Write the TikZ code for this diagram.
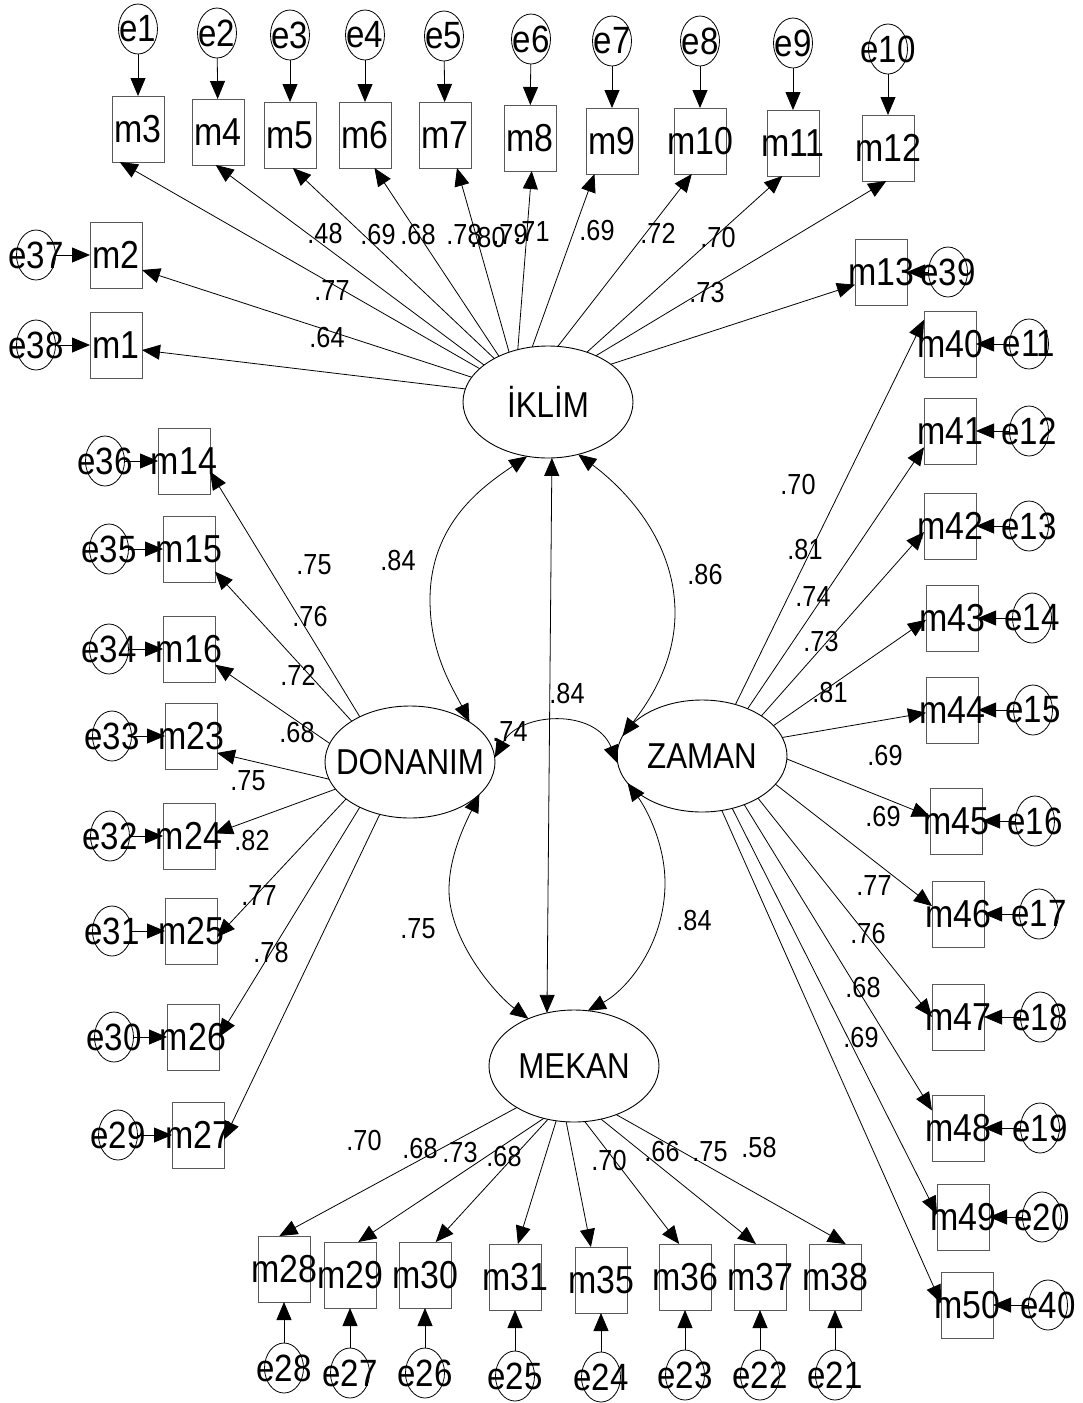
\documentclass[tikz,border=0pt]{standalone}
\usepackage{fontspec}
\setmainfont{Liberation Sans}[FakeStretch=0.87]
\usetikzlibrary{shapes.geometric,arrows.meta}
\newcommand{\zw}[1]{\makebox[0pt]{#1}}
\newcommand{\fntM}{\fontsize{39}{41}\selectfont}
\newcommand{\fntE}{\fontsize{38}{40}\selectfont}
\newcommand{\fntL}{\fontsize{36}{38}\selectfont}
\newcommand{\fntN}{\fontsize{29}{31}\selectfont}
\begin{document}
\begin{tikzpicture}[x=1pt,y=-1pt,
  >={Triangle[length=18pt,width=15pt]},
  lat/.style={ellipse,draw,line width=0.9pt,minimum width=170pt,minimum height=112pt,inner sep=0pt,outer sep=0pt,font=\fntL},
  obs/.style={rectangle,draw=black!65,line width=0.9pt,minimum width=52pt,minimum height=66pt,inner sep=0pt,outer sep=0pt,font=\fntM},
  err/.style={ellipse,draw,line width=0.8pt,minimum width=39pt,minimum height=50pt,inner sep=0pt,outer sep=0pt,font=\fntE},
  num/.style={inner sep=0pt,font=\fntN},
  ld/.style={->,line width=0.8pt},
  cv/.style={<->,line width=0.8pt}]
\useasboundingbox (0,0) rectangle (1083,1403);

% latent variables
\node[lat] (ik) at (548,402) {\zw{İKLİM}};
\node[lat] (don) at (410,762) {\zw{DONANIM}};
\node[lat] (zam) at (702,756) {\zw{ZAMAN}};
\node[lat] (mek) at (574,1066) {\zw{MEKAN}};

% top row
\node[obs] (m3) at (138,129) {\zw{m3}};
\node[obs] (m4) at (218,132) {\zw{m4}};
\node[obs] (m5) at (290,135) {\zw{m5}};
\node[obs] (m6) at (365,135) {\zw{m6}};
\node[obs] (m7) at (445,135) {\zw{m7}};
\node[obs] (m8) at (530,138) {\zw{m8}};
\node[obs] (m9) at (612,141) {\zw{m9}};
\node[obs] (m10) at (700,141) {\zw{m10}};
\node[obs] (m11) at (793,143) {\zw{m11}};
\node[obs] (m12) at (888,148) {\zw{m12}};
\node[err] (e1) at (138,29) {\zw{e1}};
\node[err] (e2) at (217,33) {\zw{e2}};
\node[err] (e3) at (290,35) {\zw{e3}};
\node[err] (e4) at (365,35) {\zw{e4}};
\node[err] (e5) at (444,36) {\zw{e5}};
\node[err] (e6) at (531,39) {\zw{e6}};
\node[err] (e7) at (612,41) {\zw{e7}};
\node[err] (e8) at (700,41) {\zw{e8}};
\node[err] (e9) at (793,43) {\zw{e9}};
\node[err] (e10) at (888,49) {\zw{e10}};
% m2, m1, m13
\node[obs] (m2) at (116,255) {\zw{m2}};
\node[obs] (m1) at (116,345) {\zw{m1}};
\node[err] (e37) at (36,255) {\zw{e37}};
\node[err] (e38) at (36,345) {\zw{e38}};
\node[obs] (m13) at (881,272) {\zw{m13}};
\node[err] (e39) at (948,272) {\zw{e39}};

% left column
\node[obs] (m14) at (184,461) {\zw{m14}};
\node[obs] (m15) at (189,549) {\zw{m15}};
\node[obs] (m16) at (189,649) {\zw{m16}};
\node[obs] (m23) at (191,736) {\zw{m23}};
\node[obs] (m24) at (189,836) {\zw{m24}};
\node[obs] (m25) at (191,931) {\zw{m25}};
\node[obs] (m26) at (193,1037) {\zw{m26}};
\node[obs] (m27) at (198,1135) {\zw{m27}};
\node[err] (e36) at (105,461) {\zw{e36}};
\node[err] (e35) at (109,549) {\zw{e35}};
\node[err] (e34) at (109,649) {\zw{e34}};
\node[err] (e33) at (112,736) {\zw{e33}};
\node[err] (e32) at (110,836) {\zw{e32}};
\node[err] (e31) at (112,931) {\zw{e31}};
\node[err] (e30) at (114,1037) {\zw{e30}};
\node[err] (e29) at (118,1135) {\zw{e29}};

% right column
\node[obs] (m40) at (950,344) {\zw{m40}};
\node[obs] (m41) at (950,431) {\zw{m41}};
\node[obs] (m42) at (950,526) {\zw{m42}};
\node[obs] (m43) at (952,618) {\zw{m43}};
\node[obs] (m44) at (952,710) {\zw{m44}};
\node[obs] (m45) at (956,821) {\zw{m45}};
\node[obs] (m46) at (958,914) {\zw{m46}};
\node[obs] (m47) at (958,1017) {\zw{m47}};
\node[obs] (m48) at (958,1128) {\zw{m48}};
\node[obs] (m49) at (963,1217) {\zw{m49}};
\node[obs] (m50) at (967,1305) {\zw{m50}};
\node[err] (e11) at (1029,344) {\zw{e11}};
\node[err] (e12) at (1029,431) {\zw{e12}};
\node[err] (e13) at (1029,526) {\zw{e13}};
\node[err] (e14) at (1032,618) {\zw{e14}};
\node[err] (e15) at (1033,710) {\zw{e15}};
\node[err] (e16) at (1035,821) {\zw{e16}};
\node[err] (e17) at (1039,914) {\zw{e17}};
\node[err] (e18) at (1040,1017) {\zw{e18}};
\node[err] (e19) at (1040,1128) {\zw{e19}};
\node[err] (e20) at (1042,1217) {\zw{e20}};
\node[err] (e40) at (1048,1305) {\zw{e40}};

% bottom row
\node[obs] (m28) at (284,1269) {\zw{m28}};
\node[obs] (m29) at (350,1275) {\zw{m29}};
\node[obs] (m30) at (425,1275) {\zw{m30}};
\node[obs] (m31) at (515,1277) {\zw{m31}};
\node[obs] (m35) at (601,1280) {\zw{m35}};
\node[obs] (m36) at (685,1277) {\zw{m36}};
\node[obs] (m37) at (760,1277) {\zw{m37}};
\node[obs] (m38) at (835,1277) {\zw{m38}};
\node[err] (e28) at (284,1368) {\zw{e28}};
\node[err] (e27) at (350,1373) {\zw{e27}};
\node[err] (e26) at (425,1373) {\zw{e26}};
\node[err] (e25) at (515,1376) {\zw{e25}};
\node[err] (e24) at (601,1377) {\zw{e24}};
\node[err] (e23) at (685,1375) {\zw{e23}};
\node[err] (e22) at (760,1375) {\zw{e22}};
\node[err] (e21) at (835,1375) {\zw{e21}};

% error arrows
\foreach \e/\m in {e1/m3,e2/m4,e3/m5,e4/m6,e5/m7,e6/m8,e7/m9,e8/m10,e9/m11,e10/m12,
  e37/m2,e38/m1,e39/m13,
  e36/m14,e35/m15,e34/m16,e33/m23,e32/m24,e31/m25,e30/m26,e29/m27,
  e11/m40,e12/m41,e13/m42,e14/m43,e15/m44,e16/m45,e17/m46,e18/m47,e19/m48,e20/m49,e40/m50,
  e28/m28,e27/m29,e26/m30,e25/m31,e24/m35,e23/m36,e22/m37,e21/m38}
  \draw[ld] (\e) -- (\m);

% loadings IKLIM
\foreach \a/\m/\b in {171/m1/-11,162/m2/-30,154/m3/241,150/m4/266,141/m5/275,137/m6/286,
  128/m7/290,120/m8/273,106/m9/242,80/m10/256,52/m11/252,44/m12/267,31/m13/206}
  \draw[ld] (ik.\a) -- (\m.\b);
% loadings DONANIM
\foreach \a/\m/\b in {138/m14/-22,145/m15/-41,167/m16/-31,192/m23/-33,200/m24/6,
  210/m25/-13,222/m26/0,240/m27/-10}
  \draw[ld] (don.\a) -- (\m.\b);
% loadings ZAMAN
\foreach \a/\m/\b in {57/m40/137,46/m41/212,34/m42/193,23/m43/184,13/m44/186,-2/m45/170,
  -21/m46/163,-37/m47/180,-49/m48/146,-60/m49/174,-70/m50/176}
  \draw[ld] (zam.\a) -- (\m.\b);
% loadings MEKAN
\foreach \a/\m/\b in {216/m28/98,240/m29/76,244/m30/72,252/m31/85,262/m35/107,
  281/m36/100,297/m37/97,311/m38/72}
  \draw[ld] (mek.\a) -- (\m.\b);

% covariances
\draw[cv] (ik.249) .. controls (485,485) and (430,522) .. (430,600)
  .. controls (430,655) and (454,690) .. (don.34);
\draw[cv] (ik.300) .. controls (621,486) and (675,538) .. (675,613)
  .. controls (675,668) and (643,709) .. (zam.166);
\draw[cv] (ik.274) -- (mek.117);
\draw[cv] (don.3) .. controls (520,712) and (595,708) .. (zam.185);
\draw[cv] (don.335) .. controls (466,822) and (449,855) .. (449,890)
  .. controls (449,940) and (495,994) .. (mek.134);
\draw[cv] (zam.200) .. controls (646,808) and (665,843) .. (665,883)
  .. controls (665,943) and (628,989) .. (mek.76);

% coefficient labels
\foreach \x/\y/\t [count=\i] in {
  325/234/.48, 378/235/.69, 418/235/.68, 464/235/.78, 488/238/.80, 510/235/.79,
  532/232/.71, 597/231/.69, 658/233/.72, 718/238/.70, 332/291/.77, 327/338/.64, 707/293/.73,
  314/565/.75, 310/617/.76, 298/675/.72, 297/733/.68, 248/781/.75, 252/841/.82,
  259/896/.77, 271/953/.78,
  398/561/.84, 705/575/.86, 567/694/.84, 510/732/.74, 418/929/.75, 694/921/.84,
  798/485/.70, 805/550/.81, 813/597/.74, 821/642/.73, 830/693/.81, 885/756/.69,
  883/817/.69, 874/886/.77, 868/934/.76, 863/988/.68, 861/1038/.69,
  364/1141/.70, 420/1149/.68, 460/1153/.73, 504/1157/.68, 609/1161/.70,
  662/1152/.66, 710/1152/.75, 759/1148/.58}
  \node[num] (n\i) at (\x,\y) {\t};
\end{tikzpicture}
\end{document}
